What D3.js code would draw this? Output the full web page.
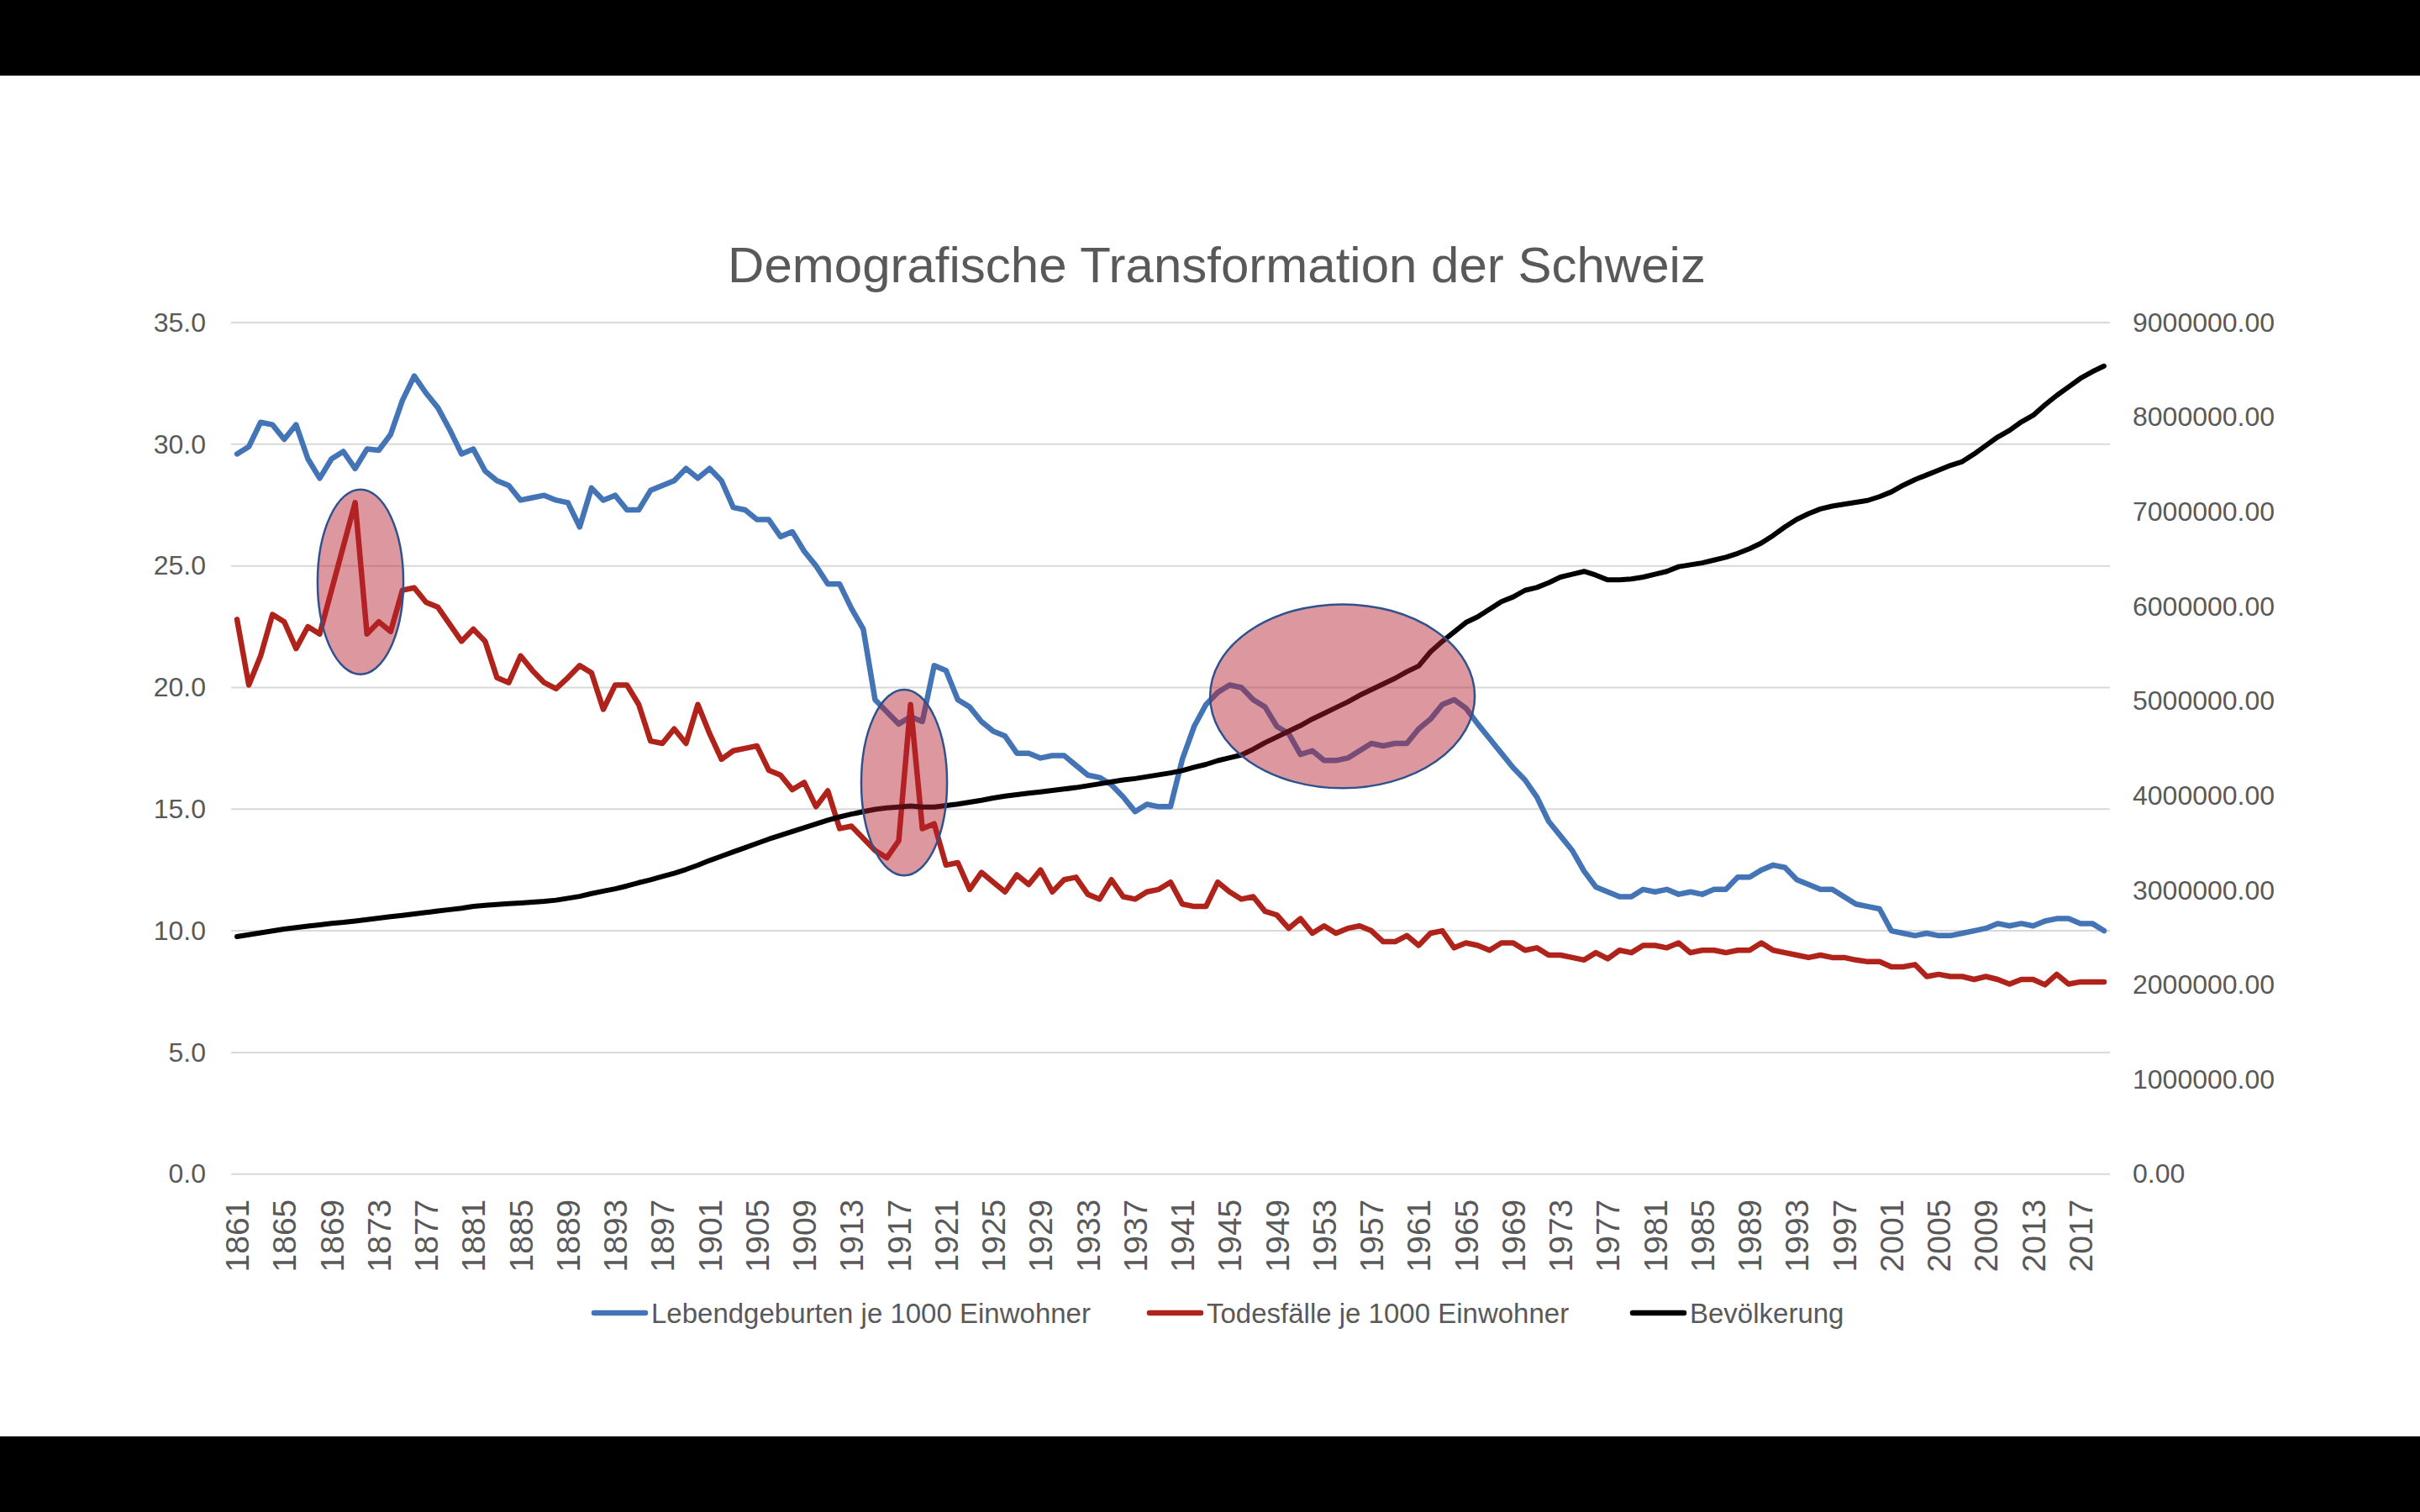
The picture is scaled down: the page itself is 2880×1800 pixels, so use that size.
<!DOCTYPE html>
<html>
<head>
<meta charset="utf-8">
<script src="https://cdn.jsdelivr.net/npm/d3@7"></script>
<style>
  html, body { margin: 0; padding: 0; background: #000; }
  svg { display: block; }
  text { font-family: "Liberation Sans", Arial, Helvetica, sans-serif; fill: #595959; }
</style>
</head>
<body>
<script>
// ---------------- DATA ----------------
const chartTitle = "Demografische Transformation der Schweiz";
const years = d3.range(1861, 2020); // categories 1861 … 2019

const seriesNames = ["Lebendgeburten je 1000 Einwohner", "Todesfälle je 1000 Einwohner", "Bevölkerung"];

// Lebendgeburten je 1000 Einwohner (1861–2019)
const births = [
  29.6, 29.9, 30.9, 30.8, 30.2, 30.8, 29.4, 28.6, 29.4, 29.7,
  29.0, 29.8, 29.75, 30.4, 31.8, 32.8, 32.1, 31.5, 30.6, 29.6,
  29.8, 28.9, 28.5, 28.3, 27.7, 27.8, 27.9, 27.7, 27.6, 26.6,
  28.2, 27.7, 27.9, 27.3, 27.3, 28.1, 28.3, 28.5, 29.0, 28.6,
  29.0, 28.5, 27.4, 27.3, 26.9, 26.9, 26.2, 26.4, 25.6, 25.0,
  24.25, 24.25, 23.25, 22.4, 19.5, 19.0, 18.5, 18.8, 18.6, 20.9,
  20.7, 19.5, 19.2, 18.6, 18.2, 18.0, 17.3, 17.3, 17.1, 17.2,
  17.2, 16.8, 16.4, 16.3, 16.0, 15.5, 14.9, 15.2, 15.1, 15.1,
  17.05, 18.4, 19.3, 19.8, 20.1, 20.0, 19.5, 19.2, 18.4, 18.1,
  17.25, 17.4, 17.0, 17.0, 17.1, 17.4, 17.7, 17.6, 17.7, 17.7,
  18.3, 18.7, 19.3, 19.5, 19.15, 18.5, 17.9, 17.3, 16.7, 16.2,
  15.5, 14.5, 13.9, 13.3, 12.45, 11.8, 11.6, 11.4, 11.4, 11.7,
  11.6, 11.7, 11.5, 11.6, 11.5, 11.7, 11.7, 12.2, 12.2, 12.5,
  12.7, 12.6, 12.1, 11.9, 11.7, 11.7, 11.4, 11.1, 11.0, 10.9,
  10.0, 9.9, 9.8, 9.9, 9.8, 9.8, 9.9, 10.0, 10.1, 10.3,
  10.2, 10.3, 10.2, 10.4, 10.5, 10.5, 10.3, 10.3, 10.0
];

// Todesfälle je 1000 Einwohner (1861–2019)
const deaths = [
  22.8, 20.1, 21.3, 23.0, 22.7, 21.6, 22.5, 22.2, 24.0, 25.8,
  27.6, 22.2, 22.7, 22.3, 24.0, 24.1, 23.5, 23.3, 22.6, 21.9,
  22.4, 21.9, 20.4, 20.2, 21.3, 20.7, 20.2, 19.95, 20.4, 20.9,
  20.6, 19.1, 20.1, 20.1, 19.3, 17.8, 17.7, 18.3, 17.7, 19.3,
  18.1, 17.05, 17.4, 17.5, 17.6, 16.6, 16.4, 15.8, 16.1, 15.1,
  15.75, 14.2, 14.3, 13.8, 13.3, 13.0, 13.7, 19.3, 14.2, 14.4,
  12.7, 12.8, 11.7, 12.4, 12.0, 11.6, 12.3, 11.9, 12.5, 11.6,
  12.1, 12.2, 11.5, 11.3, 12.1, 11.4, 11.3, 11.6, 11.7, 12.0,
  11.1, 11.0, 11.0, 12.0, 11.6, 11.3, 11.4, 10.8, 10.65, 10.1,
  10.5, 9.9, 10.2, 9.9, 10.1, 10.2, 10.0, 9.55, 9.55, 9.8,
  9.4, 9.9, 10.0, 9.3, 9.5, 9.4, 9.2, 9.5, 9.5, 9.2,
  9.3, 9.0, 9.0, 8.9, 8.8, 9.1, 8.85, 9.2, 9.1, 9.4,
  9.4, 9.3, 9.5, 9.1, 9.2, 9.2, 9.1, 9.2, 9.2, 9.5,
  9.2, 9.1, 9.0, 8.9, 9.0, 8.9, 8.9, 8.8, 8.73, 8.73,
  8.52, 8.52, 8.61, 8.12, 8.21, 8.12, 8.12, 8.0, 8.12, 8.0,
  7.81, 8.0, 8.0, 7.78, 8.21, 7.81, 7.9, 7.9, 7.9
];

// Bevölkerung (1861–2019)
const population = [
  2510000, 2530000, 2550000, 2570000, 2590000, 2605000, 2620000, 2635000, 2650000, 2660000,
  2675000, 2690000, 2705000, 2720000, 2735000, 2750000, 2765000, 2780000, 2795000, 2810000,
  2830000, 2840000, 2850000, 2858000, 2866000, 2874000, 2882000, 2895000, 2915000, 2935000,
  2965000, 2990000, 3015000, 3045000, 3080000, 3110000, 3145000, 3180000, 3220000, 3265000,
  3315000, 3360000, 3405000, 3450000, 3495000, 3540000, 3580000, 3620000, 3660000, 3700000,
  3740000, 3775000, 3805000, 3830000, 3855000, 3870000, 3880000, 3890000, 3880000, 3880000,
  3895000, 3910000, 3930000, 3950000, 3975000, 3995000, 4010000, 4025000, 4040000, 4055000,
  4070000, 4085000, 4105000, 4125000, 4145000, 4165000, 4180000, 4200000, 4220000, 4240000,
  4265000, 4300000, 4330000, 4370000, 4400000, 4430000, 4490000, 4560000, 4620000, 4680000,
  4740000, 4810000, 4870000, 4930000, 4990000, 5060000, 5120000, 5180000, 5240000, 5310000,
  5370000, 5520000, 5630000, 5730000, 5830000, 5890000, 5970000, 6050000, 6100000, 6170000,
  6200000, 6250000, 6310000, 6340000, 6370000, 6330000, 6280000, 6280000, 6290000, 6310000,
  6340000, 6370000, 6420000, 6440000, 6460000, 6490000, 6520000, 6560000, 6610000, 6670000,
  6750000, 6840000, 6920000, 6980000, 7030000, 7060000, 7080000, 7100000, 7120000, 7160000,
  7210000, 7280000, 7340000, 7390000, 7440000, 7490000, 7530000, 7610000, 7700000, 7790000,
  7860000, 7950000, 8020000, 8130000, 8230000, 8320000, 8410000, 8480000, 8540000
];

// Axis ticks
const leftTicks = [0, 5, 10, 15, 20, 25, 30, 35];
const rightTicks = [0, 1000000, 2000000, 3000000, 4000000, 5000000, 6000000, 7000000, 8000000, 9000000];
const xTickYears = years.filter((y, i) => i % 4 === 0);

// Highlight ellipses (in data units: centre year, centre rate, half-width in years, half-height in rate)
const highlightYear = [1871.45, 1917.46, 1954.55];
const highlightRate = [24.34, 16.09, 19.64];
const highlightHalfYears = [3.63, 3.63, 11.2];
const highlightHalfRate = [3.8, 3.82, 3.78];

// ---------------- LAYOUT ----------------
const W = 2880, H = 1800;
const plot = { left: 275, right: 2511, top: 384, bottom: 1397.7 };
const colors = { births: "#4374B5", deaths: "#B0231A", pop: "#000000" };

const svg = d3.select("body").append("svg").attr("width", W).attr("height", H);

// letterbox
svg.append("rect").attr("x", 0).attr("y", 0).attr("width", W).attr("height", H).attr("fill", "#000");
svg.append("rect").attr("x", 0).attr("y", 90).attr("width", W).attr("height", 1620).attr("fill", "#fff");

const x = d3.scalePoint().domain(years).range([plot.left, plot.right]).padding(0.5);
const step = x.step();
const xc = v => x(1861) + (v - 1861) * step; // continuous year position for annotations
const yL = d3.scaleLinear().domain([0, 35]).range([plot.bottom, plot.top]);
const yR = d3.scaleLinear().domain([0, 9000000]).range([plot.bottom, plot.top]);

// gridlines
svg.append("g")
  .selectAll("line").data(leftTicks).join("line")
  .attr("x1", plot.left).attr("x2", plot.right)
  .attr("y1", d => yL(d)).attr("y2", d => yL(d))
  .attr("stroke", "#d9d9d9").attr("stroke-width", 2);

// left axis
const gL = svg.append("g").attr("transform", `translate(${plot.left},0)`)
  .call(d3.axisLeft(yL).tickValues(leftTicks).tickFormat(d3.format(".1f")).tickSize(0).tickPadding(30));
gL.select(".domain").remove();
gL.selectAll("text").style("font-size", "32px").attr("fill", "#595959").attr("font-family", null);

// right axis
const gR = svg.append("g").attr("transform", `translate(${plot.right},0)`)
  .call(d3.axisRight(yR).tickValues(rightTicks).tickFormat(d3.format(".2f")).tickSize(0).tickPadding(27));
gR.select(".domain").remove();
gR.selectAll("text").style("font-size", "32px").attr("fill", "#595959").attr("font-family", null);

// bottom axis
const gB = svg.append("g").attr("transform", `translate(0,${plot.bottom})`)
  .call(d3.axisBottom(x).tickValues(xTickYears).tickSize(0));
gB.select(".domain").remove();
gB.selectAll("text")
  .style("font-size", "39px").attr("fill", "#595959").attr("font-family", null)
  .attr("transform", "rotate(-90)")
  .attr("text-anchor", "end")
  .attr("x", -30).attr("y", 0).attr("dy", "0.35em");

// lines
const lineL = arr => d3.line().x((d, i) => x(years[i])).y(d => yL(d))(arr);
const lineR = arr => d3.line().x((d, i) => x(years[i])).y(d => yR(d))(arr);

svg.append("path").attr("d", lineL(births)).attr("fill", "none")
  .attr("stroke", colors.births).attr("stroke-width", 6.5)
  .attr("stroke-linejoin", "round").attr("stroke-linecap", "round");
svg.append("path").attr("d", lineL(deaths)).attr("fill", "none")
  .attr("stroke", colors.deaths).attr("stroke-width", 6.5)
  .attr("stroke-linejoin", "round").attr("stroke-linecap", "round");
svg.append("path").attr("d", lineR(population)).attr("fill", "none")
  .attr("stroke", colors.pop).attr("stroke-width", 6)
  .attr("stroke-linejoin", "round").attr("stroke-linecap", "round");

// highlight ellipses
svg.append("g").selectAll("ellipse").data(highlightYear).join("ellipse")
  .attr("cx", d => xc(d))
  .attr("cy", (d, i) => yL(highlightRate[i]))
  .attr("rx", (d, i) => highlightHalfYears[i] * step)
  .attr("ry", (d, i) => yL(0) - yL(highlightHalfRate[i]))
  .attr("fill", "rgb(180,30,45)").attr("fill-opacity", 0.46)
  .attr("stroke", "#2F528F").attr("stroke-width", 2.5);

// title
svg.append("text").attr("x", 1448).attr("y", 336)
  .attr("text-anchor", "middle").style("font-size", "60px")
  .text(chartTitle);

// legend
const legendColors = [colors.births, colors.deaths, colors.pop];
const legendX = [707, 1368, 1943];
const legendY = 1563;
seriesNames.forEach((name, i) => {
  svg.append("line").attr("x1", legendX[i]).attr("x2", legendX[i] + 61).attr("y1", legendY).attr("y2", legendY)
    .attr("stroke", legendColors[i]).attr("stroke-width", 6.5).attr("stroke-linecap", "round");
  svg.append("text").attr("x", legendX[i] + 68).attr("y", legendY).attr("dy", "0.35em")
    .style("font-size", "33px").text(name);
});
</script>
</body>
</html>
